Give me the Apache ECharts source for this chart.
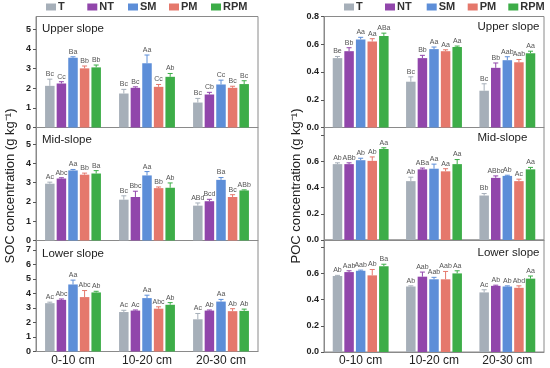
<!DOCTYPE html>
<html>
<head>
<meta charset="utf-8">
<script src="https://cdn.jsdelivr.net/npm/echarts@6/dist/echarts.min.js"></script>
<style>html,body{margin:0;padding:0;background:#fff;}#c{width:550px;height:368px;}</style>
</head>
<body>
<div id="c"></div>
<script>
// ---------- data ----------
const treatments = ['T', 'NT', 'SM', 'PM', 'RPM'];
const depths = ['0-10 cm', '10-20 cm', '20-30 cm'];

// SOC (g kg-1) — rows: T, NT, SM, PM, RPM ; columns: depths
const socUpperMean = [[2.12, 1.73, 1.27], [2.24, 2.02, 1.68], [3.55, 3.27, 2.19], [3.01, 2.07, 2.02], [3.06, 2.58, 2.21]];
const socUpperSD   = [[0.34, 0.21, 0.21], [0.09, 0.05, 0.11], [0.05, 0.42, 0.22], [0.12, 0.12, 0.08], [0.12, 0.17, 0.17]];
const socUpperSig  = [['Bc', 'Bc', 'Bc'], ['Cc', 'Bc', 'Cb'], ['Ba', 'Aa', 'Cc'], ['Bb', 'Cc', 'Bc'], ['Bb', 'Ab', 'Bc']];

const socMidMean = [[2.95, 2.12, 1.81], [3.22, 2.26, 2.04], [3.64, 3.38, 3.15], [3.42, 2.72, 2.26], [3.48, 2.74, 2.60]];
const socMidSD   = [[0.08, 0.20, 0.14], [0.04, 0.30, 0.10], [0.05, 0.20, 0.12], [0.08, 0.06, 0.12], [0.15, 0.25, 0.03]];
const socMidSig  = [['Ac', 'Bc', 'ABd'], ['Abc', 'Bbc', 'Bcd'], ['Aa', 'Aa', 'Ba'], ['Bb', 'Bb', 'Bc'], ['Ba', 'Ab', 'ABb']];

const socLowerMean = [[3.33, 2.72, 2.22], [3.56, 2.82, 2.82], [4.62, 3.68, 3.44], [3.75, 2.95, 2.78], [4.07, 3.22, 2.80]];
const socLowerSD   = [[0.07, 0.12, 0.40], [0.06, 0.04, 0.04], [0.30, 0.20, 0.15], [0.45, 0.13, 0.17], [0.08, 0.15, 0.12]];
const socLowerSig  = [['Ac', 'Ac', 'Ac'], ['Abc', 'Ac', 'Ab'], ['Aa', 'Aa', 'Aa'], ['Abc', 'Abc', 'Ab'], ['Ab', 'Ab', 'Ab']];

// POC (g kg-1)
const pocUpperMean = [[0.50, 0.33, 0.265], [0.55, 0.50, 0.43], [0.635, 0.565, 0.485], [0.62, 0.55, 0.47], [0.66, 0.58, 0.535]];
const pocUpperSD   = [[0.012, 0.035, 0.05], [0.025, 0.02, 0.035], [0.015, 0.015, 0.025], [0.02, 0.01, 0.02], [0.02, 0.007, 0.015]];
const pocUpperSig  = [['Be', 'Bc', 'Bc'], ['Bb', 'Bb', 'Bb'], ['Aa', 'Aa', 'Aab'], ['Aa', 'Aa', 'Aab'], ['ABa', 'Aa', 'Aa']];

const pocMidMean = [[0.58, 0.45, 0.34], [0.58, 0.54, 0.475], [0.61, 0.545, 0.49], [0.605, 0.525, 0.45], [0.695, 0.58, 0.54]];
const pocMidSD   = [[0.01, 0.03, 0.015], [0.01, 0.01, 0.015], [0.015, 0.035, 0.005], [0.03, 0.02, 0.015], [0.01, 0.035, 0.015]];
const pocMidSig  = [['Ab', 'Ab', 'Bb'], ['ABb', 'ABa', 'ABbc'], ['Ab', 'Aa', 'Ab'], ['Ab', 'Aa', 'Ac'], ['Aa', 'Aa', 'Aa']];

const pocLowerMean = [[0.58, 0.50, 0.455], [0.61, 0.575, 0.505], [0.62, 0.555, 0.50], [0.585, 0.555, 0.49], [0.655, 0.60, 0.56]];
const pocLowerSD   = [[0.005, 0.005, 0.02], [0.01, 0.035, 0.005], [0.005, 0.015, 0.005], [0.045, 0.06, 0.015], [0.015, 0.02, 0.02]];
const pocLowerSig  = [['Ab', 'Ab', 'Ac'], ['Aab', 'Aab', 'Ab'], ['Aab', 'Aab', 'Ab'], ['Ab', 'Aab', 'Abd'], ['Ba', 'Aa', 'Aa']];

const panelTitles = ['Upper slope', 'Mid-slope', 'Lower slope'];
const yTitles = ['SOC concentration (g kg\u207B\u00B9)', 'POC concentration (g kg\u207B\u00B9)'];

// ---------- styling / layout ----------
const colors = ['#A6AFB9', '#9146AB', '#5D8ED8', '#E5786C', '#3DAD48'];
const FONT = '"Liberation Sans", Arial, sans-serif';
const FRAME = '#8a8a8a';
const BW = 9.5, GAP = 0.22;

const panels = [
  {mean: socUpperMean, sd: socUpperSD, sig: socUpperSig, left: 36, width: 222, top: 16.5, height: 111, max: 5.65, interval: 1, dec: 0, showMax: false, hideAbove: null, title: 0, tx: 42, ty: 28.5, last: false},
  {mean: socMidMean, sd: socMidSD, sig: socMidSig, left: 36, width: 222, top: 127.5, height: 113, max: 5.87, interval: 1, dec: 0, showMax: false, hideAbove: null, title: 1, tx: 42, ty: 140, last: false},
  {mean: socLowerMean, sd: socLowerSD, sig: socLowerSig, left: 36, width: 222, top: 240.5, height: 111, max: 7.65, interval: 1, dec: 0, showMax: false, hideAbove: null, title: 2, tx: 42, ty: 254, last: true},
  {mean: pocUpperMean, sd: pocUpperSD, sig: pocUpperSig, left: 324, width: 220, top: 16.5, height: 111, max: 0.8, interval: 0.2, dec: 1, showMax: true, hideAbove: null, title: 0, tx: 477.5, ty: 27, last: false},
  {mean: pocMidMean, sd: pocMidSD, sig: pocMidSig, left: 324, width: 220, top: 127.5, height: 112.5, max: 0.86, interval: 0.2, dec: 1, showMax: false, hideAbove: 0.75, title: 1, tx: 477.5, ty: 138, last: false},
  {mean: pocLowerMean, sd: pocLowerSD, sig: pocLowerSig, left: 324, width: 220, top: 240, height: 112, max: 0.855, interval: 0.2, dec: 1, showMax: false, hideAbove: 0.75, title: 2, tx: 477.5, ty: 253, last: true}
];

const grid = [], xAxis = [], yAxis = [], series = [], graphic = [];

panels.forEach((p, gi) => {
  grid.push({left: p.left, top: p.top, width: p.width, height: p.height, show: true, borderColor: FRAME, borderWidth: 1, backgroundColor: 'transparent', containLabel: false, outerBoundsMode: 'none'});
  xAxis.push({
    type: 'category', gridIndex: gi, data: depths,
    axisLine: {show: true, lineStyle: {color: FRAME}},
    axisTick: {show: false},
    axisLabel: {show: p.last, color: '#222', fontFamily: FONT, fontSize: 12, margin: 3},
    splitLine: {show: false}
  });
  const hide = p.hideAbove, dec = p.dec;
  yAxis.push({
    type: 'value', gridIndex: gi, min: 0, max: p.max, interval: p.interval,
    axisLine: {show: true, lineStyle: {color: FRAME}},
    axisTick: {show: true, inside: false, length: 3, lineStyle: {color: '#555'}},
    axisLabel: {
      color: '#222', fontFamily: FONT, fontSize: 9, fontWeight: 'bold', margin: 5,
      showMaxLabel: p.showMax, showMinLabel: true,
      formatter: v => (hide !== null && v > hide) ? '' : v.toFixed(dec)
    },
    splitLine: {show: false}
  });
  treatments.forEach((t, ti) => {
    series.push({
      type: 'bar', name: t, xAxisIndex: gi, yAxisIndex: gi,
      barWidth: BW, barGap: (GAP * 100) + '%',
      itemStyle: {color: colors[ti]},
      data: p.mean[ti], silent: true, animation: false
    });
  });
  // error bars + significance letters
  const edata = [], labels = [];
  treatments.forEach((t, ti) => {
    depths.forEach((d, di) => {
      edata.push([di, ti, p.mean[ti][di], p.sd[ti][di]]);
      labels.push(p.sig[ti][di]);
    });
  });
  series.push({
    type: 'custom', xAxisIndex: gi, yAxisIndex: gi, data: edata, silent: true, animation: false, z: 5,
    renderItem: (params, api) => {
      const di = api.value(0), ti = api.value(1), m = api.value(2), s = api.value(3);
      const b = api.coord([di, m]);
      const tp = api.coord([di, m + s]);
      const cx = b[0] + (ti - 2) * (BW + BW * GAP);
      const col = colors[ti];
      return {type: 'group', children: [
        {type: 'line', shape: {x1: cx, y1: b[1], x2: cx, y2: tp[1]}, style: {stroke: col, lineWidth: 1}},
        {type: 'line', shape: {x1: cx - 2.5, y1: tp[1], x2: cx + 2.5, y2: tp[1]}, style: {stroke: col, lineWidth: 1}},
        {type: 'text', style: {text: labels[params.dataIndex], x: cx, y: tp[1] - 1.5, align: 'center', verticalAlign: 'bottom', fill: '#555', font: '7px ' + FONT}}
      ]};
    }
  });
  graphic.push({type: 'text', x: p.tx, y: p.ty, style: {text: panelTitles[p.title], fill: '#222', font: '11.5px ' + FONT, align: 'left', verticalAlign: 'middle'}});
});

// y-axis titles
graphic.push({type: 'text', x: 10, y: 186, rotation: Math.PI / 2, style: {text: yTitles[0], fill: '#222', font: '13px ' + FONT, align: 'center', verticalAlign: 'middle'}});
graphic.push({type: 'text', x: 296, y: 186, rotation: Math.PI / 2, style: {text: yTitles[1], fill: '#222', font: '13px ' + FONT, align: 'center', verticalAlign: 'middle'}});

// legends (one per item to reproduce even spacing)
const legend = [];
const legLeftA = [46, 87.3, 128, 169, 211];
const legLeftB = [344, 385, 426.7, 467.7, 508.3];
[legLeftA, legLeftB].forEach(arr => {
  treatments.forEach((t, ti) => {
    legend.push({
      data: [t], left: arr[ti], top: 1.5, itemWidth: 10, itemHeight: 7, icon: 'rect', padding: 0,
      selectedMode: false,
      textStyle: {color: '#333', fontFamily: FONT, fontSize: 11, fontWeight: 'bold', padding: [0, 0, 0, -3]}
    });
  });
});

const chart = echarts.init(document.getElementById('c'), null, {renderer: 'canvas', width: 550, height: 368});
chart.setOption({
  animation: false,
  backgroundColor: '#fff',
  textStyle: {fontFamily: FONT},
  legend, grid, xAxis, yAxis, series, graphic
});
</script>
</body>
</html>
